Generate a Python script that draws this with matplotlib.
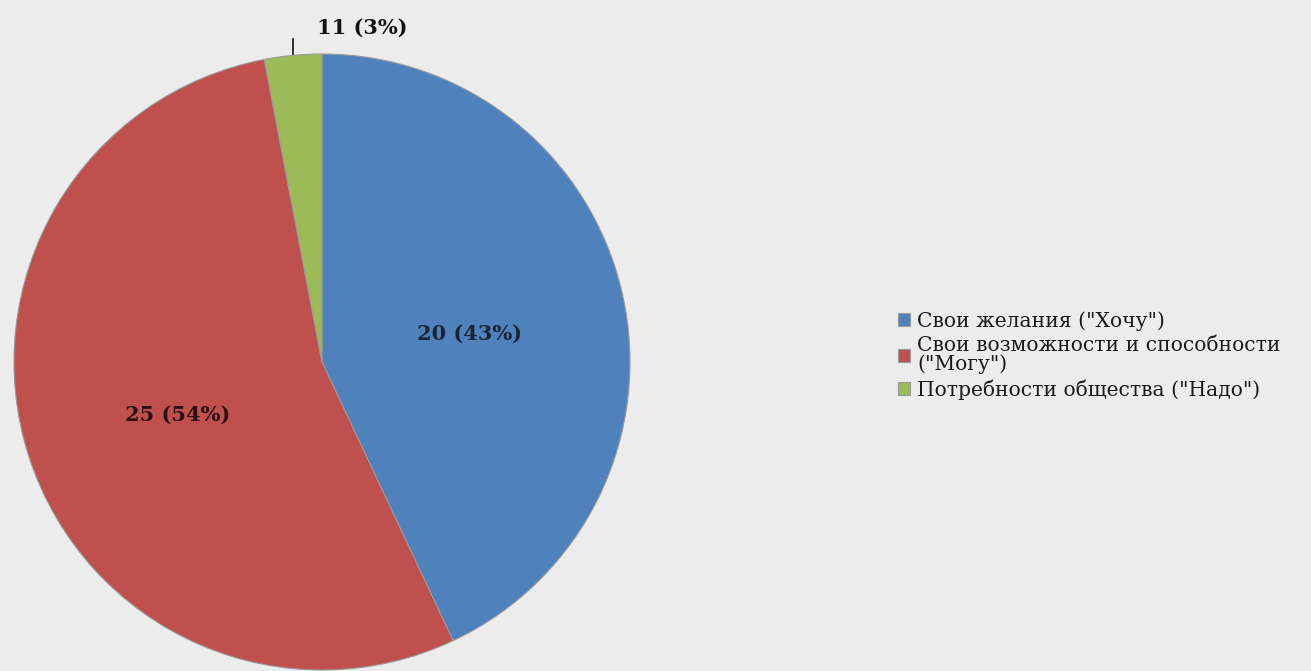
import matplotlib
matplotlib.use("Agg")
import matplotlib.pyplot as plt

categories = ['Свои желания ("Хочу")',
              'Свои возможности и способности\n("Могу")',
              'Потребности общества ("Надо")']
shares = [43, 54, 3]
counts = [20, 25, 11]
colors = ['#4f81bd', '#c0504d', '#9bbb59']

bg = '#ececec'
fig = plt.figure(figsize=(13.11, 6.71), dpi=100, facecolor=bg)
ax = fig.add_axes([14/1311, 1/671, 616/1311, 616/671])
ax.set_facecolor(bg)

wedges, _ = ax.pie(shares, colors=colors, startangle=90, counterclock=False,
                   radius=1.0, wedgeprops=dict(edgecolor='#9a9a9a', linewidth=0.8))
ax.set_xlim(-1, 1)
ax.set_ylim(-1, 1)
ax.set_aspect('equal')
ax.axis('off')

font = ['DejaVu Serif']
labels = [f'{c} ({s}%)' for c, s in zip(counts, shares)]
ax.text(0.48, 0.09, labels[0], ha='center', va='center', fontsize=15,
        fontweight='bold', color='#1a2433', family=font)
ax.text(-0.47, -0.17, labels[1], ha='center', va='center', fontsize=15,
        fontweight='bold', color='#2a1010', family=font)
ax.text(0.13, 1.085, labels[2], ha='center', va='center', fontsize=15,
        fontweight='bold', color='#111111', family=font)
ax.plot([-0.095, -0.095], [1.0, 1.05], color='#111111', lw=1.2, clip_on=False)

leg = fig.legend(wedges, categories, loc='upper left',
                 bbox_to_anchor=(898/1311, 1 - 311/671), frameon=False,
                 prop=dict(family=font, size=14.6), handlelength=0.6,
                 handleheight=0.6, handletextpad=0.35, labelspacing=0.25,
                 borderaxespad=0, borderpad=0)
for t in leg.get_texts():
    t.set_color('#1a1a1a')
    t.set_linespacing(1.0)

fig.savefig('out.png', dpi=100, facecolor=bg)
